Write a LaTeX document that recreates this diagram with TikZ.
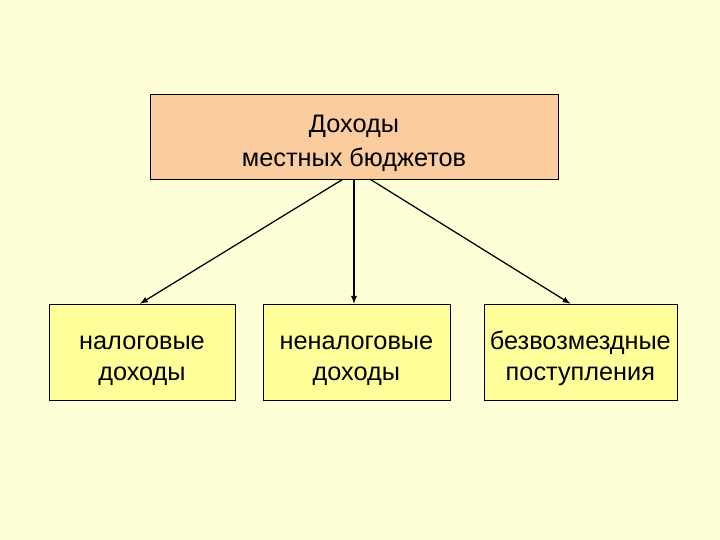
\documentclass[tikz,border=0pt]{standalone}
\usepackage{fontspec}
\setmainfont{Liberation Sans}
\usetikzlibrary{positioning}
\definecolor{bgyellow}{RGB}{255,255,215}
\definecolor{peach}{RGB}{250,204,158}
\definecolor{boxyellow}{RGB}{255,255,153}
\newcommand{\topstrut}{\rule{0pt}{22pt}}

\begin{document}
\begin{tikzpicture}
        \fill[bgyellow] (0,0) rectangle (18,13.5);
        \tikzset{
            topbox/.style={rectangle,draw,fill=peach,minimum width=10.2cm,minimum height=2.125cm,align=center,font=\fontsize{18}{24}\selectfont},
            subbox/.style={rectangle,draw,fill=boxyellow,minimum height=2.4cm,align=center,font=\fontsize{18}{22}\selectfont},
            arr/.style={-latex,line width=0.9pt}
        }
        \node[topbox] (income) at (8.85,10.09) {\topstrut Доходы\\местных бюджетов};
        \node[subbox, minimum width=4.65cm] (tax) at (3.55,4.7) {\topstrut налоговые\\доходы};
        \node[subbox, minimum width=4.675cm] (nontax) at (8.91,4.7) {\topstrut неналоговые\\доходы};
        \node[subbox, minimum width=4.825cm] (grants) at (14.51,4.7) {\topstrut безвозмездные\\поступления};
    
        \draw[arr] ([xshift=-0.275cm]income.south) -- ([xshift=-0.05cm]tax.north);
        \draw[arr] (income.south) -- (income.south |- nontax.north);
        \draw[arr] ([xshift=0.4cm]income.south) -- ([xshift=-0.25cm]grants.north);
    \end{tikzpicture}
\end{document}
